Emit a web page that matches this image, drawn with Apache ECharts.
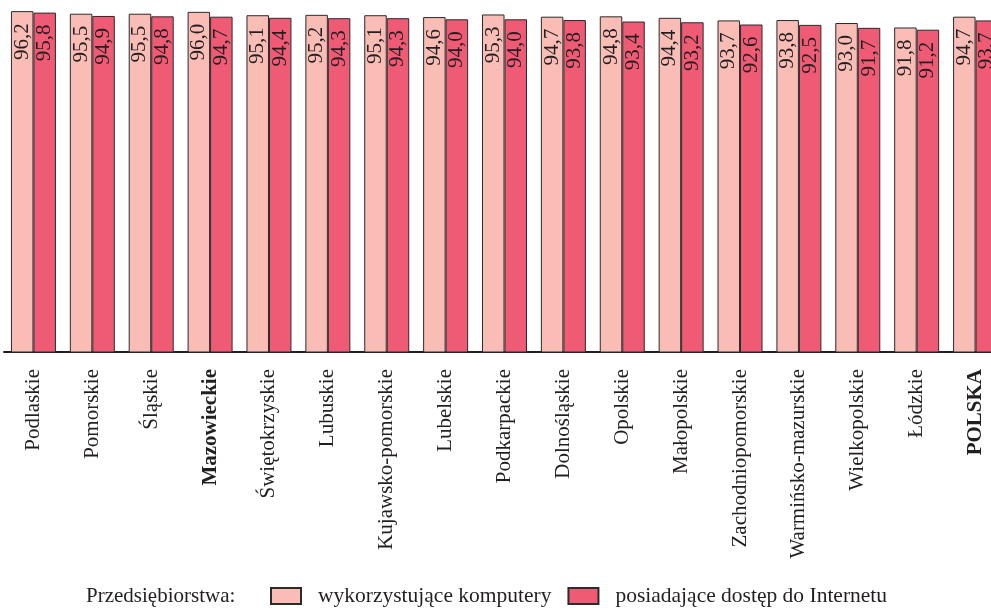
<!DOCTYPE html>
<html><head><meta charset="utf-8">
<script src="https://cdn.jsdelivr.net/npm/echarts@6/dist/echarts.min.js"></script>
<style>html,body{margin:0;padding:0;background:#fff}#c{width:991px;height:610px}</style>
</head><body><div id="c"></div>
<script>
const categories = ['Podlaskie','Pomorskie','Śląskie','Mazowieckie','Świętokrzyskie','Lubuskie','Kujawsko-pomorskie','Lubelskie','Podkarpackie','Dolnośląskie','Opolskie','Małopolskie','Zachodniopomorskie','Warmińsko-mazurskie','Wielkopolskie','Łódzkie','POLSKA'];
const boldCategories = ['Mazowieckie','POLSKA'];
const computers = [96.2,95.5,95.5,96.0,95.1,95.2,95.1,94.6,95.3,94.7,94.8,94.4,93.7,93.8,93.0,91.8,94.7];
const internet = [95.8,94.9,94.8,94.7,94.4,94.3,94.3,94.0,94.0,93.8,93.4,93.2,92.6,92.5,91.7,91.2,93.7];
const seriesNames = ['wykorzystujące komputery','posiadające dostęp do Internetu'];
const legendTitle = 'Przedsiębiorstwa:';

const FONT = '"Liberation Serif", "DejaVu Serif", serif';
const TXT = '#231f20';
const chart = echarts.init(document.getElementById('c'));
const lbl = {
  show: true, position: 'insideTop', rotate: 90, align: 'right', verticalAlign: 'middle',
  distance: 15, offset: [3, 0], fontFamily: FONT, fontSize: 21, color: TXT,
  formatter: p => p.value.toFixed(1).replace('.', ',')
};
chart.setOption({
  animation: false,
  textStyle: { fontFamily: FONT },
  graphic: [{ type: 'text', left: 86, top: 586, style: { text: legendTitle, font: '21px ' + FONT, fill: TXT } }],
  legend: {
    left: 270, top: 585, padding: 0, itemWidth: 30, itemHeight: 16, itemGap: 16, icon: 'rect',
    textStyle: { fontFamily: FONT, fontSize: 21.5, lineHeight: 22, color: TXT, padding: [0, 0, 0, 12] },
    data: seriesNames
  },
  grid: { left: 4, right: -14, top: -3, bottom: 258, containLabel: false, outerBoundsMode: 'none' },
  xAxis: {
    type: 'category', data: categories,
    axisLine: { show: true, lineStyle: { color: '#231f20', width: 2 } },
    axisTick: { show: false },
    axisLabel: {
      interval: 0, rotate: 90, margin: 17, fontFamily: FONT, fontSize: 21, color: TXT,
      formatter: v => boldCategories.includes(v) ? '{b|' + v + '}' : v,
      rich: { b: { fontFamily: FONT, fontSize: 21, fontWeight: 'bold', color: TXT } }
    }
  },
  yAxis: { type: 'value', min: 4.5, max: 100, show: false, splitLine: { show: false } },
  series: [
    { name: seriesNames[0], type: 'bar', data: computers, barGap: '0%', barCategoryGap: '23.6%',
      itemStyle: { color: '#F9BDB6', borderColor: '#2b2b2b', borderWidth: 1 }, label: lbl },
    { name: seriesNames[1], type: 'bar', data: internet,
      itemStyle: { color: '#EF5A74', borderColor: '#2b2b2b', borderWidth: 1 }, label: lbl }
  ]
});
</script></body></html>
